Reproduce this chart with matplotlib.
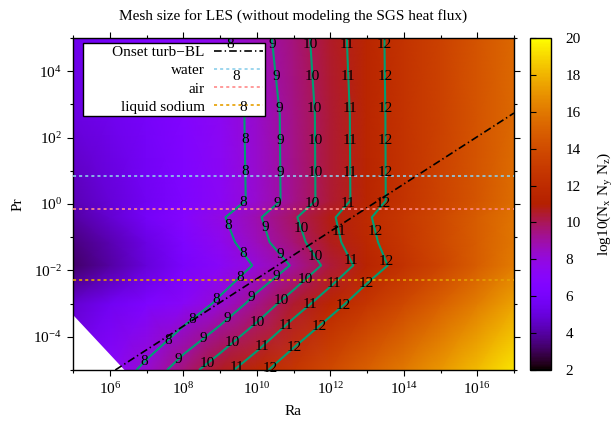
import numpy as np
import matplotlib
matplotlib.use("Agg")
import matplotlib.pyplot as plt
from matplotlib.ticker import FixedLocator, FuncFormatter

plt.rcParams['font.family'] = ['Liberation Serif', 'DejaVu Serif']
plt.rcParams['mathtext.fontset'] = 'custom'
plt.rcParams['mathtext.rm'] = 'Liberation Serif'
plt.rcParams['mathtext.it'] = 'Liberation Serif:italic'
plt.rcParams['mathtext.bf'] = 'Liberation Serif:bold'
plt.rcParams['font.size'] = 11
plt.rcParams['lines.scale_dashes'] = False

# ---------------- data ----------------
# grid axes: log10(Ra) columns, log10(Pr) rows
log_ra = [5, 6, 7, 8, 9, 10, 11, 12, 13, 14, 15, 16, 17]
log_pr = [-5.0, -3.0, -1.85, -1.15, -0.4, 0.1, 2.7, 5.0]

# log10(Nx Ny Nz), one list per Pr row
mesh_pr_m5_00 = [6.2, 7.2, 8.3, 9.55, 10.6, 11.65, 12.75, 13.85, 14.95, 16.0, 17.1, 18.2, 19.3]
mesh_pr_m3_00 = [4.8, 5.6, 6.4, 7.2, 8.22, 9.35, 10.5, 11.55, 12.65, 13.8, 15.0, 16.2, 17.4]
mesh_pr_m1_85 = [3.2, 4.0, 5.0, 6.1, 7.15, 8.12, 9.1, 10.3, 11.42, 12.45, 13.55, 14.8, 16.1]
mesh_pr_m1_15 = [3.5, 4.2, 5.2, 6.4, 7.55, 8.65, 9.65, 10.7, 11.7, 12.7, 13.75, 14.8, 15.9]
mesh_pr_m0_40 = [4.0, 4.8, 5.8, 6.85, 7.85, 8.86, 9.9, 10.85, 11.87, 12.85, 13.8, 14.8, 15.8]
mesh_pr_p0_10 = [4.3, 4.9, 5.6, 6.4, 7.3, 8.3, 9.38, 10.42, 11.48, 12.5, 13.5, 14.5, 15.5]
mesh_pr_p2_70 = [5.1, 5.5, 6.0, 6.6, 7.35, 8.33, 9.4, 10.43, 11.5, 12.5, 13.45, 14.4, 15.35]
mesh_pr_p5_00 = [5.4, 5.9, 6.45, 7.1, 7.8, 8.62, 9.55, 10.55, 11.55, 12.5, 13.4, 14.4, 15.3]

contour_levels = [8, 9, 10, 11, 12]

fluid_names = ['water', 'air', 'liquid sodium']
fluid_pr = [7.0, 0.7, 0.005]
fluid_colors = ['#8ccfeb', '#ff8a8a', '#e69f00']

onset_label = 'Onset turb\u2212BL'
onset_log_ra = [6.15, 17.0]
onset_log_pr = [-5.0, 2.74]

# boundary of the region without data (white, lower left)
blank_log_ra = [5.0, 6.4]
blank_log_pr = [-3.34, -5.0]

xtick_exps = [6, 8, 10, 12, 14, 16]
ytick_exps = [-4, -2, 0, 2, 4]
cbar_ticks = [2, 4, 6, 8, 10, 12, 14, 16, 18, 20]

# ---------------- figure ----------------
W, H = 615, 421
fig = plt.figure(figsize=(W / 100, H / 100), dpi=100)
ax = fig.add_axes([73 / W, 1 - 370 / H, 441 / W, 332 / H])
cax = fig.add_axes([530 / W, 1 - 370 / H, 21 / W, 332 / H])

Z = np.array([mesh_pr_m5_00, mesh_pr_m3_00, mesh_pr_m1_85, mesh_pr_m1_15,
              mesh_pr_m0_40, mesh_pr_p0_10, mesh_pr_p2_70, mesh_pr_p5_00])

mesh = ax.pcolormesh(log_ra, log_pr, Z, shading='gouraud', cmap='gnuplot',
                     vmin=2, vmax=20, zorder=1)

ax.fill([blank_log_ra[0], blank_log_ra[0], blank_log_ra[1]],
        [blank_log_pr[1], blank_log_pr[0], blank_log_pr[1]],
        color='white', lw=0, zorder=1.5)

cs = ax.contour(log_ra, log_pr, Z, levels=contour_levels, colors='#009e73',
                linewidths=1.5, zorder=2)

handles = []
onset_line, = ax.plot(onset_log_ra, onset_log_pr, color='black', lw=1.2,
                      ls=(0, (5.5, 2.2, 1.0, 2.2)), zorder=3)
handles.append((onset_line, '       ' + onset_label))
for name, pr, col in zip(fluid_names, fluid_pr, fluid_colors):
    ln = ax.axhline(np.log10(pr), color=col, lw=1.2, ls=(0, (2.2, 2.2)), zorder=3)
    handles.append((ln, name))

ax.set_xlim(log_ra[0], log_ra[-1])
ax.set_ylim(log_pr[0], log_pr[-1])

leg = ax.legend([h for h, _ in handles], [l for _, l in handles],
                loc='upper left', bbox_to_anchor=(10 / 441, 1 - 5 / 332),
                borderaxespad=0, markerfirst=False, frameon=True, fancybox=False,
                edgecolor='black', framealpha=1, handlelength=3.2,
                handletextpad=0.6, labelspacing=0.3, borderpad=0.15, fontsize=11)
leg.get_frame().set_linewidth(1.0)
leg.set_zorder(4)

# contour labels every ~32 px along each contour, gnuplot style
for lev, path in zip(cs.levels, cs.get_paths()):
    for poly in path.to_polygons(closed_only=False):
        if len(poly) < 2:
            continue
        if poly[0, 1] < poly[-1, 1]:
            poly = poly[::-1]
        disp = ax.transData.transform(poly)
        seg = np.hypot(*np.diff(disp, axis=0).T)
        cum = np.concatenate([[0.0], np.cumsum(seg)])
        s = 7.0
        while s < cum[-1] - 2:
            xx = np.interp(s, cum, poly[:, 0])
            yy = np.interp(s, cum, poly[:, 1])
            ax.text(xx, yy, '%d' % lev, ha='center', va='center', fontsize=11,
                    color='black', zorder=6)
            s += 32.0

fmt = FuncFormatter(lambda v, p: r'$10^{%d}$' % round(v))
ax.xaxis.set_major_locator(FixedLocator(xtick_exps))
ax.xaxis.set_minor_locator(FixedLocator(list(range(5, 18, 2))))
ax.yaxis.set_major_locator(FixedLocator(ytick_exps))
ax.yaxis.set_minor_locator(FixedLocator(list(range(-5, 6, 2))))
ax.xaxis.set_major_formatter(fmt)
ax.yaxis.set_major_formatter(fmt)
ax.tick_params(which='both', direction='out', top=True, right=True, width=0.8)
ax.tick_params(which='major', length=4, pad=4)
ax.tick_params(which='minor', length=2.5)
for sp in ax.spines.values():
    sp.set_linewidth(1.0)

ax.set_xlabel('Ra', labelpad=6)
ax.set_ylabel('Pr', labelpad=6)
fig.text((73 + 514) / 2 / W, 1 - 20 / H, 'Mesh size for LES (without modeling the SGS heat flux)',
         ha='center', va='baseline', fontsize=11)

cb = fig.colorbar(mesh, cax=cax, ticks=cbar_ticks)
cb.outline.set_linewidth(1.0)
cax.tick_params(which='both', direction='in', left=True, right=False,
                labelleft=False, labelright=True, length=4, width=0.8, pad=10.5)
cb.set_label(r'log10(N$_\mathrm{x}$ N$_\mathrm{y}$ N$_\mathrm{z}$)', labelpad=11)

fig.savefig('out.png', dpi=100)
